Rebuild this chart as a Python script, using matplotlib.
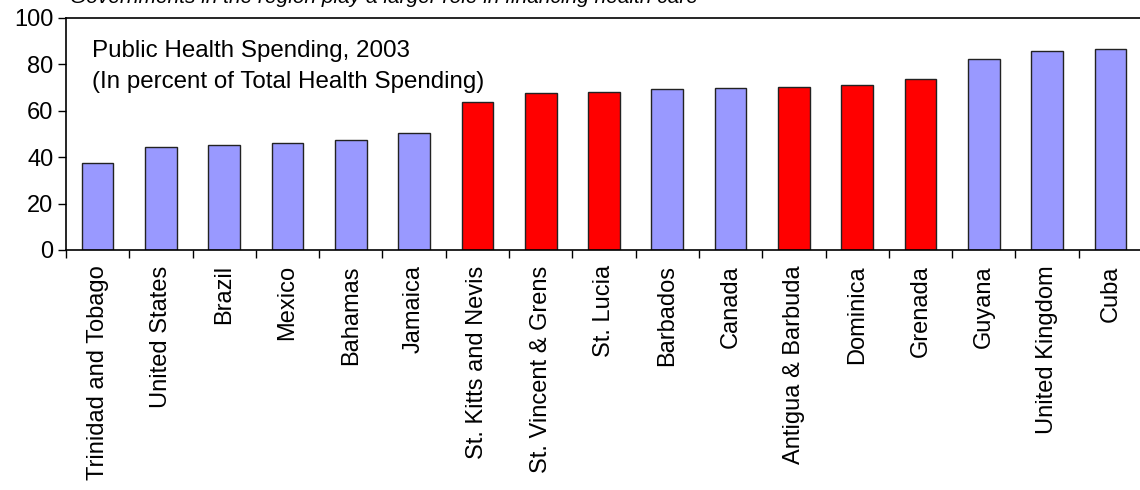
import matplotlib.pyplot as plt

plt.rcParams['font.family'] = ['Liberation Sans', 'DejaVu Sans']

# Public health spending, 2003 (percent of total health spending)
countries = ["Trinidad and Tobago", "United States", "Brazil", "Mexico", "Bahamas",
             "Jamaica", "St. Kitts and Nevis", "St. Vincent & Grens", "St. Lucia",
             "Barbados", "Canada", "Antigua & Barbuda", "Dominica", "Grenada",
             "Guyana", "United Kingdom", "Cuba"]
values = [37.6, 44.5, 45.1, 46.3, 47.4, 50.3, 63.6, 67.5, 68.1, 69.3, 69.8,
          70.4, 71.3, 73.6, 82.5, 85.6, 86.6]
eccu = ["St. Kitts and Nevis", "St. Vincent & Grens", "St. Lucia",
        "Antigua & Barbuda", "Dominica", "Grenada"]

blue = "#9999FF"
red = "#FF0000"
colors = [red if c in eccu else blue for c in countries]

fig = plt.figure(figsize=(11.4, 4.9), dpi=100)
ax = fig.add_axes([66 / 1140, 240 / 490, 1076 / 1140, 232 / 490])

x = range(len(countries))
ax.bar(x, values, width=0.5, color=colors, edgecolor="#222222", linewidth=1.0)

ax.set_xlim(-0.5, len(countries) - 0.5)
ax.set_ylim(0, 100)
ax.set_yticks([0, 20, 40, 60, 80, 100])
ax.set_xticks([i - 0.5 for i in x])
ax.set_xticklabels([])
ax.set_xticks(list(x), minor=True)
ax.set_xticklabels(countries, minor=True, rotation=90, fontsize=17)
ax.tick_params(axis='x', which='minor', length=0, pad=11)
ax.tick_params(axis='x', which='major', length=6, width=1, direction='out')
ax.tick_params(axis='y', length=6, width=1, direction='out', labelsize=17, pad=3)

ax.spines['right'].set_visible(False)
for s in ['left', 'bottom', 'top']:
    ax.spines[s].set_linewidth(1.2)
    ax.spines[s].set_color('black')

ax.text(0.0242, 0.832, "Public Health Spending, 2003", transform=ax.transAxes,
        fontsize=17.4, va='baseline', ha='left')
ax.text(0.0242, 0.698, "(In percent of Total Health Spending)", transform=ax.transAxes,
        fontsize=17.4, va='baseline', ha='left')

# title strip cut off at the top of the original slide
fig.text(70 / 1140, 1 - 3 / 490, "Governments in the region play a larger role in financing health care",
         fontsize=15, style='italic', va='baseline', ha='left')

fig.savefig("out.png", dpi=100)
